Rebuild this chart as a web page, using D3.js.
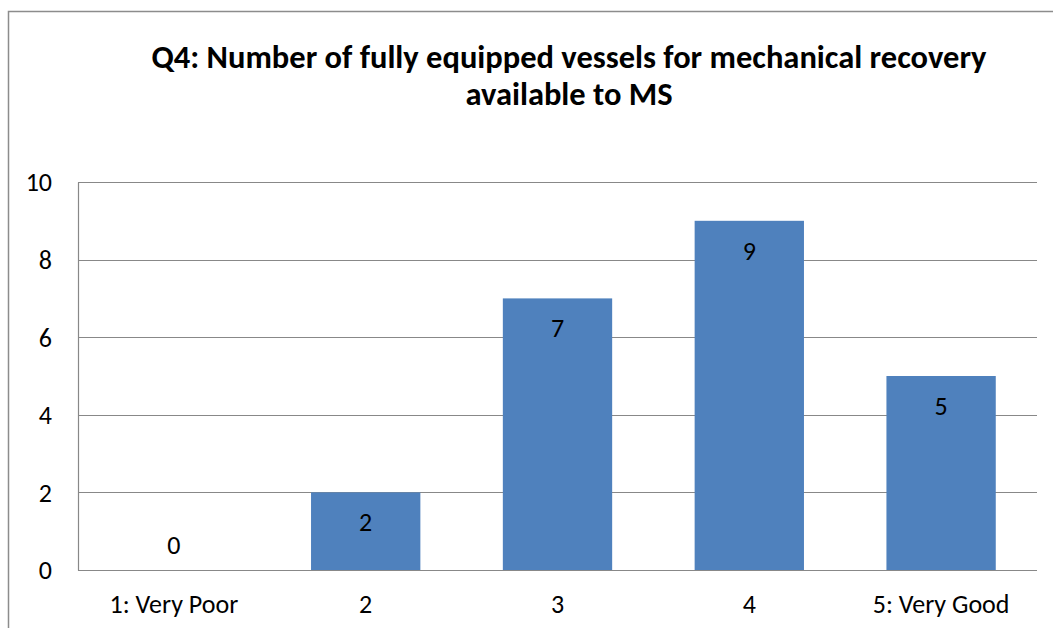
<!DOCTYPE html>
<html>
<head>
<meta charset="utf-8">
<script src="https://cdn.jsdelivr.net/npm/d3@7"></script>
<style>
  body { margin: 0; background: #fff; }
  svg text { font-family: Calibri, Carlito, "Open Sans", sans-serif; fill: #000; }
</style>
</head>
<body>
<div class="chart"></div>
<script>
// data
var categories = ["1: Very Poor", "2", "3", "4", "5: Very Good"];
var counts = [0, 2, 7, 9, 5];
var yTicks = [0, 2, 4, 6, 8, 10];
var titleLines = ["Q4: Number of fully equipped vessels for mechanical recovery", "available to MS"];

var svgWidth = 1053, svgHeight = 628;
var margin = { top: 182, right: 16, bottom: 58, left: 78 };
var width = svgWidth - margin.left - margin.right;
var height = svgHeight - margin.top - margin.bottom;

var svg = d3.select(".chart").append("svg")
    .attr("width", svgWidth)
    .attr("height", svgHeight);

// chart area border (runs off the right and bottom edge)
svg.append("rect")
    .attr("x", 8.5).attr("y", 11.5)
    .attr("width", 1200).attr("height", 800)
    .attr("fill", "none")
    .attr("stroke", "#8c8c8c")
    .attr("stroke-width", 1.5);

var chartGroup = svg.append("g")
    .attr("transform", `translate(${margin.left}, ${margin.top})`);

// scales
var xScale = d3.scaleBand()
    .domain(categories)
    .range([0, width])
    .paddingInner(0.43)
    .paddingOuter(0.215);

var yScale = d3.scaleLinear()
    .domain([0, 10])
    .range([height, 0]);

// gridlines
chartGroup.append("g")
    .selectAll("line")
    .data(yTicks)
    .enter()
    .append("line")
    .attr("x1", 0)
    .attr("x2", width)
    .attr("y1", d => Math.round(yScale(d)) + 0.5)
    .attr("y2", d => Math.round(yScale(d)) + 0.5)
    .attr("stroke", "#888")
    .attr("stroke-width", 1.2);

// y axis
var leftAxis = d3.axisLeft(yScale).tickValues(yTicks).tickSize(0).tickPadding(26);
var yAxis = chartGroup.append("g").call(leftAxis);
yAxis.select(".domain").attr("stroke", "#888").attr("stroke-width", 1.2);
yAxis.selectAll("text").style("font-size", "26px").attr("dy", "0.34em");

// x axis
var bottomAxis = d3.axisBottom(xScale).tickSize(0).tickPadding(34);
var xAxis = chartGroup.append("g")
    .attr("transform", `translate(0, ${height})`)
    .call(bottomAxis);
xAxis.select(".domain").remove();
xAxis.selectAll("text").style("font-size", "26px").attr("dy", "0.34em");

// bars
chartGroup.selectAll("rect.bar")
    .data(counts)
    .enter()
    .append("rect")
    .attr("class", "bar")
    .attr("x", (d, i) => xScale(categories[i]))
    .attr("y", d => yScale(d))
    .attr("width", xScale.bandwidth())
    .attr("height", d => height - yScale(d))
    .attr("fill", "#4f81bd");

// value labels
chartGroup.selectAll("text.value")
    .data(counts)
    .enter()
    .append("text")
    .attr("class", "value")
    .attr("x", (d, i) => xScale(categories[i]) + xScale.bandwidth() / 2)
    .attr("y", d => d === 0 ? yScale(d) - 25 : yScale(d) + 30)
    .attr("dy", "0.34em")
    .attr("text-anchor", "middle")
    .style("font-size", "26px")
    .text(d => d);

// title
svg.append("g")
    .selectAll("text")
    .data(titleLines)
    .enter()
    .append("text")
    .attr("x", 569)
    .attr("y", (d, i) => 68 + i * 37)
    .attr("text-anchor", "middle")
    .style("font-size", "32.5px")
    .style("font-weight", "bold")
    .text(d => d);
</script>
</body>
</html>
